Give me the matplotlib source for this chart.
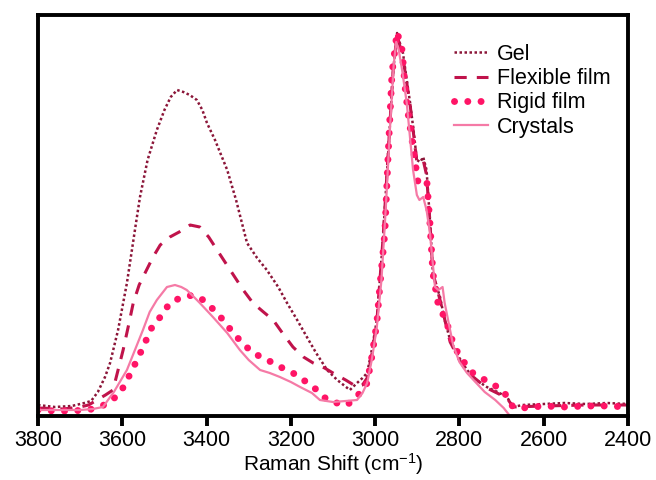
import matplotlib
matplotlib.use("Agg")
import matplotlib.pyplot as plt
import numpy as np

plt.rcParams['font.family'] = ['Liberation Sans', 'DejaVu Sans']
plt.rcParams['mathtext.default'] = 'regular'

# Raman shift (cm-1) and intensity (a.u.)
gel_x = [3800, 3760, 3720, 3690, 3674, 3658, 3641, 3629, 3610, 3589, 3570, 3558, 3540, 3518,
         3500, 3485, 3470, 3455, 3440, 3423, 3410, 3399, 3380, 3351, 3330, 3304, 3280, 3257,
         3230, 3209, 3185, 3162, 3140, 3114, 3090, 3060, 3043, 3030, 3019, 3008, 2996, 2981,
         2969, 2957, 2948, 2940, 2934, 2925, 2917, 2909, 2901, 2893, 2886, 2878, 2870, 2863,
         2855, 2846, 2835, 2822, 2800, 2782, 2760, 2735, 2710, 2687, 2673, 2650, 2600, 2550,
         2500, 2450, 2400]
gel_px = [405, 407, 406, 403, 401, 392, 377, 363, 330, 283, 230, 197, 160, 130,
          110, 97, 90, 92, 95, 100, 110, 123, 140, 170, 200, 243, 258, 270,
          287, 303, 320, 337, 353, 370, 380, 390, 383, 378, 373, 350, 320, 237,
          153, 70, 33, 45, 53, 80, 103, 130, 160, 162, 157, 170, 220, 273,
          285, 297, 320, 340, 358, 370, 380, 387, 392, 397, 407, 405, 404, 403,
          404, 403, 404]

flex_x = [3800, 3740, 3700, 3680, 3660, 3640, 3622, 3610, 3598, 3585, 3574, 3560, 3546, 3527,
          3510, 3487, 3465, 3439, 3416, 3395, 3375, 3344, 3313, 3290, 3265, 3242, 3220, 3195,
          3170, 3147, 3120, 3100, 3070, 3043, 3030, 3019, 3008, 2996, 2981, 2969, 2957, 2948,
          2940, 2934, 2917, 2901, 2886, 2878, 2870, 2863, 2846, 2822, 2800, 2782, 2735, 2687,
          2673, 2600, 2500, 2400]
flex_px = [408, 409, 407, 405, 400, 395, 390, 370, 350, 325, 303, 285, 273, 257,
           245, 237, 232, 225, 227, 237, 250, 270, 290, 303, 312, 320, 333, 347,
           357, 363, 368, 373, 380, 387, 385, 378, 355, 322, 237, 153, 68, 35,
           48, 58, 105, 162, 160, 175, 222, 273, 300, 342, 360, 372, 388, 398,
           407, 406, 405, 405]

rigid_x = [3800, 3760, 3720, 3690, 3670, 3653, 3630, 3605, 3585, 3565, 3546, 3534, 3510, 3487,
           3463, 3432, 3408, 3390, 3375, 3355, 3337, 3315, 3290, 3265, 3242, 3220, 3195, 3170,
           3147, 3130, 3114, 3095, 3076, 3067, 3052, 3036, 3019, 3008, 2996, 2989, 2977, 2969,
           2960, 2948, 2936, 2929, 2922, 2910, 2898, 2886, 2877, 2870, 2863, 2851, 2830, 2815,
           2799, 2768, 2727, 2697, 2673, 2650, 2600, 2550, 2500, 2450, 2400]
rigid_px = [410, 411, 411, 410, 409, 407, 402, 393, 377, 360, 343, 330, 317, 303,
            298, 295, 300, 307, 313, 323, 333, 343, 353, 358, 363, 368, 373, 380,
            387, 393, 400, 403, 403, 405, 400, 393, 383, 357, 323, 287, 233, 153,
            73, 32, 50, 87, 113, 147, 183, 180, 183, 223, 273, 303, 323, 343,
            357, 373, 383, 390, 407, 408, 406, 407, 406, 406, 407]

cryst_x = [3800, 3740, 3700, 3670, 3646, 3620, 3589, 3570, 3551, 3535, 3518, 3494, 3475, 3460,
           3447, 3430, 3416, 3385, 3351, 3321, 3300, 3273, 3250, 3226, 3200, 3178, 3150, 3131,
           3100, 3070, 3043, 3030, 3019, 3008, 2996, 2985, 2975, 2965, 2956, 2950, 2944, 2936,
           2925, 2910, 2901, 2895, 2886, 2878, 2870, 2858, 2850, 2840, 2835, 2826, 2815, 2800,
           2782, 2760, 2740, 2715, 2695, 2680]
cryst_px = [410, 410, 410, 409, 407, 392, 370, 350, 330, 312, 300, 287, 285, 287,
            290, 297, 303, 317, 333, 350, 360, 370, 373, 377, 382, 387, 393, 400,
            402, 401, 400, 393, 383, 360, 327, 280, 210, 130, 65, 42, 50, 70,
            103, 170, 195, 200, 197, 210, 233, 287, 290, 287, 303, 322, 345, 362,
            373, 383, 392, 400, 408, 416]


def to_int(px):
    return (410 - np.array(px)) / 380.0


series = [
    ("Gel", gel_x, gel_px, dict(color="#8B1538", lw=1.8, ls=(0, (1, 1)))),
    ("Flexible film", flex_x, flex_px, dict(color="#C0134B", lw=2.2, ls=(0, (4, 3.3)))),
    ("Rigid film", rigid_x, rigid_px, dict(color="#FF1466", lw=5.0, ls=(0, (0.01, 1.9)),
                                          dash_capstyle="round")),
    ("Crystals", cryst_x, cryst_px, dict(color="#F57AA6", lw=1.6, ls="-")),
]

fig = plt.figure(figsize=(6.56, 4.8), dpi=100)
ax = fig.add_axes([38/656, 64/480, 590/656, 401/480])

for name, xs, ps, style in series:
    ax.plot(xs, to_int(ps), label=name, **style)

ax.set_xlim(3800, 2400)
ax.set_ylim((410 - 416) / 380, (410 - 15) / 380)
ax.set_xticks(np.arange(3800, 2399, -200))
ax.set_yticks([])
ax.tick_params(axis="x", direction="out", length=7, width=2.8, labelsize=15.5, pad=3)
for s in ax.spines.values():
    s.set_linewidth(2.8)
ax.set_xlabel("Raman Shift (cm$^{-1}$)", fontsize=15, labelpad=0)

ax.legend(loc="upper left", bbox_to_anchor=((454 - 38) / 590, (416 - 44) / 401),
          frameon=False, fontsize=15.5, handlelength=1.58, handletextpad=0.42,
          labelspacing=0.15, borderpad=0, borderaxespad=0)

fig.savefig("out.png", dpi=100)
